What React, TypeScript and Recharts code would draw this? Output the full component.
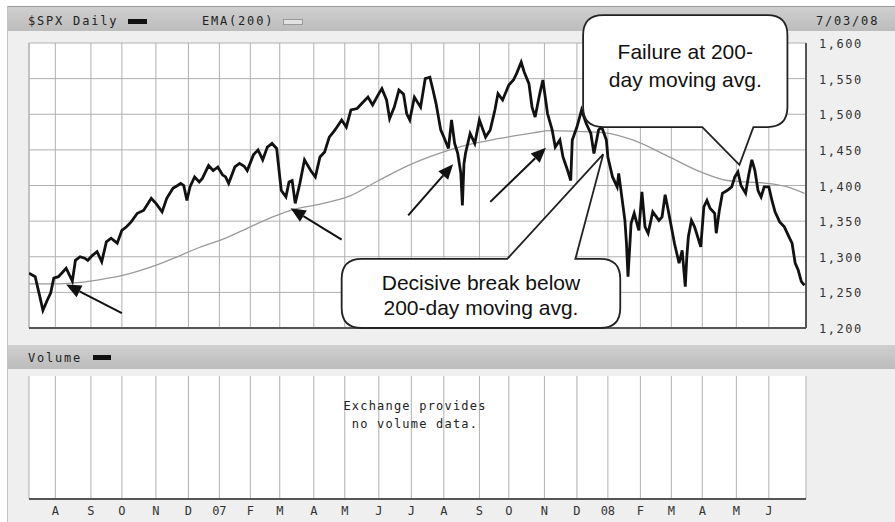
import React from 'react';
import { LineChart, Line, XAxis, YAxis, CartesianGrid, ReferenceLine, ReferenceArea } from 'recharts';

// x = trading day index, 0 = early Jul 2006, 501 = 7/03/08
const monthStarts = [17, 40, 60, 82, 103, 123, 143, 162, 184, 204, 226, 247, 268, 291, 310, 333, 354, 374, 395, 415, 435, 457, 478];
const monthLabels = ['A', 'S', 'O', 'N', 'D', '07', 'F', 'M', 'A', 'M', 'J', 'J', 'A', 'S', 'O', 'N', 'D', '08', 'F', 'M', 'A', 'M', 'J'];
const priceTicks = [1200, 1250, 1300, 1350, 1400, 1450, 1500, 1550, 1600];

const spxDays = [
  0, 4, 7, 9, 12, 14, 16, 19, 22, 24, 26, 28, 30, 33, 36, 38, 41, 44, 47, 50, 53, 57, 60, 63, 66, 70, 74, 77, 79, 82,
  86, 89, 93, 96, 98, 100, 102, 104, 107, 110, 112, 116, 119, 122, 125, 127, 129, 133, 136, 139, 141, 145, 148, 151, 154, 157, 160, 162, 163, 166,
  168, 170, 172, 175, 178, 182, 185, 188, 191, 194, 197, 199, 202, 205, 208, 212, 215, 219, 222, 226, 228, 231, 233, 236, 239, 242, 244, 246, 249, 253,
  256, 259, 261, 263, 266, 268, 271, 273, 275, 277, 279, 280, 281, 282, 285, 288, 291, 295, 298, 301, 303, 306, 310, 313, 315, 318, 320, 323, 325, 327,
  330, 332, 335, 338, 340, 343, 345, 348, 350, 351, 354, 357, 360, 363, 365, 368, 370, 373, 374, 377, 380, 381, 383, 385, 386, 387, 389, 391, 394, 396,
  398, 400, 403, 407, 409, 411, 413, 415, 417, 420, 422, 424, 425, 426, 428, 430, 434, 436, 438, 440, 443, 444, 446, 448, 451, 454, 456, 458, 460, 463,
  465, 467, 469, 471, 473, 475, 478, 480, 482, 485, 488, 491, 493, 495, 497, 499, 501,
];
const spxClose = [
  1277, 1272, 1244, 1225, 1240, 1249, 1270, 1272, 1279, 1284, 1275, 1266, 1295, 1300, 1298, 1295, 1302, 1307, 1293, 1321, 1326, 1319, 1337, 1342, 1349, 1361, 1365, 1375, 1382, 1375,
  1363, 1382, 1396, 1400, 1403, 1400, 1379, 1398, 1412, 1405, 1410, 1428, 1421, 1426, 1415, 1412, 1403, 1426, 1431, 1427, 1421, 1443, 1450, 1436, 1454, 1459, 1452, 1412, 1393, 1384,
  1405, 1407, 1375, 1403, 1436, 1421, 1412, 1440, 1447, 1468, 1476, 1482, 1492, 1482, 1506, 1508, 1515, 1524, 1513, 1529, 1536, 1520, 1494, 1510, 1534, 1528, 1501, 1492, 1524, 1510,
  1550, 1552, 1534, 1515, 1478, 1468, 1452, 1492, 1459, 1445, 1417, 1372, 1430, 1445, 1473, 1459, 1492, 1468, 1478, 1506, 1529, 1520, 1541, 1548, 1557, 1573, 1559, 1543, 1510, 1496,
  1529, 1548, 1501, 1478, 1454, 1464, 1440, 1421, 1407, 1464, 1482, 1506, 1487, 1473, 1445, 1478, 1482, 1464, 1440, 1412, 1398, 1417, 1384, 1351, 1319, 1272, 1347, 1361, 1337, 1391,
  1342, 1333, 1363, 1351, 1356, 1387, 1365, 1342, 1319, 1291, 1309, 1258, 1300, 1328, 1351, 1342, 1314, 1370, 1379, 1368, 1361, 1333, 1365, 1389, 1393, 1398, 1412, 1419, 1400, 1389,
  1415, 1436, 1421, 1393, 1384, 1398, 1398, 1379, 1363, 1349, 1342, 1328, 1319, 1291, 1281, 1265, 1260,
];

const emaDays = [0, 20, 33, 46, 59, 78, 98, 110, 127, 143, 160, 169, 188, 207, 225, 246, 265, 283, 304, 326, 337, 353, 372, 390, 412, 434, 451, 463, 477, 490, 501];
const emaValues = [1262, 1262, 1264, 1268, 1273, 1285, 1302, 1313, 1326, 1342, 1358, 1365, 1374, 1385, 1406, 1429, 1445, 1457, 1466, 1474, 1477, 1476, 1474, 1464, 1442, 1419, 1407, 1405, 1403, 1398, 1389];

// annotations, in chart coordinates (day, price)
const callouts = [
  { lines: ['Failure at 200-', 'day moving avg.'], x1: 358, x2: 490, y1: 1482, y2: 1639, tip: [459, 1429], base: [435, 468], textY: [1587, 1548] },
  { lines: ['Decisive break below', '200-day moving avg.'], x1: 202, x2: 382, y1: 1200, y2: 1297, tip: [371, 1444], base: [309, 353], textY: [1263, 1228] },
];
const arrows = [
  { from: [60, 1221], to: [24, 1261] },
  { from: [202, 1324], to: [169, 1368] },
  { from: [245, 1358], to: [274, 1430] },
  { from: [298, 1377], to: [334, 1453] },
];

const MONO = "'DejaVu Sans Mono', monospace";
const SANS = "'Liberation Sans', Arial, sans-serif";

const spxData = spxDays.map((day, i) => ({ day, close: spxClose[i] }));
const emaData = emaDays.map((day, i) => ({ day, ema: emaValues[i] }));
const volumeFrame = monthStarts.map((day) => ({ day }));

const PriceTick = (props: any) => {
  const { x, y, payload } = props;
  return (
    <text x={x} y={y + 5} fontFamily={MONO} fontSize={12} letterSpacing={1.5} fill="#333" textAnchor="start">
      {Number(payload.value).toLocaleString('en-US')}
    </text>
  );
};

const MonthTick = (props: any) => {
  const { x, y, payload } = props;
  const label = monthLabels[monthStarts.indexOf(payload.value)];
  return (
    <text x={x} y={y + 16} fontFamily={MONO} fontSize={12} fill="#333" textAnchor="middle">
      {label}
    </text>
  );
};

const arrowShape = (p: any) => {
  const { x1, y1, x2, y2 } = p;
  const a = Math.atan2(y2 - y1, x2 - x1);
  const len = 15, hw = 6.5;
  const bx = x2 - len * Math.cos(a);
  const by = y2 - len * Math.sin(a);
  const pts = `${x2},${y2} ${bx + hw * Math.sin(a)},${by - hw * Math.cos(a)} ${bx - hw * Math.sin(a)},${by + hw * Math.cos(a)}`;
  return (
    <g>
      <line x1={x1} y1={y1} x2={bx} y2={by} stroke="#111" strokeWidth={2} />
      <polygon points={pts} fill="#111" />
    </g>
  );
};

const calloutShape = (c: typeof callouts[number]) => (p: any) => {
  const { x, y, width, height } = p;
  const sx = (d: number) => x + ((d - c.x1) / (c.x2 - c.x1)) * width;
  const sy = (v: number) => y + ((c.y2 - v) / (c.y2 - c.y1)) * height;
  const l = x, r = x + width, t = y, b = y + height, k = 20;
  const tx = sx(c.tip[0]), ty = sy(c.tip[1]);
  const b0 = sx(c.base[0]), b1 = sx(c.base[1]);
  const d = ty > b
    ? `M${l + k},${t} H${r - k} Q${r},${t} ${r},${t + k} V${b - k} Q${r},${b} ${r - k},${b} H${b1} L${tx},${ty} L${b0},${b} H${l + k} Q${l},${b} ${l},${b - k} V${t + k} Q${l},${t} ${l + k},${t} Z`
    : `M${l + k},${t} H${b0} L${tx},${ty} L${b1},${t} H${r - k} Q${r},${t} ${r},${t + k} V${b - k} Q${r},${b} ${r - k},${b} H${l + k} Q${l},${b} ${l},${b - k} V${t + k} Q${l},${t} ${l + k},${t} Z`;
  return (
    <g>
      <path d={d} fill="#fff" stroke="#222" strokeWidth={1.8} />
      {c.lines.map((s, i) => (
        <text key={i} x={(l + r) / 2} y={sy(c.textY[i]) + 7} textAnchor="middle" fontFamily={SANS} fontSize={21} fill="#111">
          {s}
        </text>
      ))}
    </g>
  );
};

const band: React.CSSProperties = {
  position: 'absolute', left: 8, width: 887, height: 24,
  background: 'linear-gradient(#cfcfcf, #bcbcbc)',
};
const label: React.CSSProperties = {
  position: 'absolute', fontFamily: MONO, fontSize: 12, letterSpacing: 1.8, color: '#222', lineHeight: '14px', whiteSpace: 'pre',
};

export default function App() {
  return (
    <div style={{ position: 'fixed', left: 0, top: 0, width: 895, height: 522, background: '#fff', overflow: 'hidden' }}>
      <div style={{ position: 'absolute', left: 7, top: 6, width: 888, height: 516, background: '#efefef', borderLeft: '1px solid #c4c4c4', borderTop: '1px solid #9a9a9a' }} />
      <div style={{ ...band, top: 7 }} />
      <div style={{ ...label, left: 28, top: 14 }}>$SPX Daily</div>
      <div style={{ position: 'absolute', left: 128, top: 19, width: 19, height: 5, background: '#111' }} />
      <div style={{ ...label, left: 202, top: 14 }}>EMA(200)</div>
      <div style={{ position: 'absolute', left: 283, top: 19, width: 18, height: 4, background: '#e2e2e2', border: '1px solid #999' }} />
      <div style={{ ...label, left: 816, top: 14 }}>7/03/08</div>

      <div style={{ ...band, top: 345 }} />
      <div style={{ ...label, left: 28, top: 351 }}>Volume</div>
      <div style={{ position: 'absolute', left: 93, top: 355, width: 18, height: 5, background: '#111' }} />

      <div style={{ position: 'absolute', left: 0, top: 0 }}>
        <LineChart width={895} height={340} margin={{ top: 43, right: 29, bottom: 12, left: 29 }}>
          <CartesianGrid stroke="#b0b0b0" fill="#fff" />
          <XAxis type="number" dataKey="day" domain={[0, 502]} ticks={monthStarts} allowDataOverflow hide />
          <YAxis
            orientation="right"
            domain={[1200, 1600]}
            ticks={priceTicks}
            interval={0}
            allowDataOverflow
            width={60}
            axisLine={false}
            tickLine={false}
            tickSize={0}
            tickMargin={13}
            tick={PriceTick}
          />
          <ReferenceLine x={0} stroke="#b0b0b0" />
          <ReferenceLine x={502} stroke="#555" strokeWidth={2} />
          <ReferenceLine y={1200} stroke="#555" strokeWidth={2} />
          <Line data={emaData} dataKey="ema" type="monotone" stroke="#9a9a9a" strokeWidth={1.3} dot={false} isAnimationActive={false} />
          <Line data={spxData} dataKey="close" type="linear" stroke="#111" strokeWidth={2.8} dot={false} isAnimationActive={false} />
          {arrows.map((a, i) => (
            <ReferenceLine
              key={'a' + i}
              segment={[{ x: a.from[0], y: a.from[1] }, { x: a.to[0], y: a.to[1] }]}
              ifOverflow="visible"
              shape={arrowShape}
              zIndex={900}
            />
          ))}
          {callouts.map((c, i) => (
            <ReferenceArea
              key={'c' + i}
              x1={c.x1}
              x2={c.x2}
              y1={c.y1}
              y2={c.y2}
              ifOverflow="visible"
              shape={calloutShape(c)}
              zIndex={1000}
            />
          ))}
        </LineChart>
      </div>

      <div style={{ position: 'absolute', left: 0, top: 360 }}>
        <LineChart width={895} height={162} data={volumeFrame} margin={{ top: 16, right: 89, bottom: 0, left: 29 }}>
          <CartesianGrid stroke="#b0b0b0" fill="#fff" horizontal={false} />
          <XAxis
            type="number"
            dataKey="day"
            domain={[0, 502]}
            ticks={monthStarts}
            interval={0}
            allowDataOverflow
            height={23}
            axisLine={{ stroke: '#555', strokeWidth: 2 }}
            tickLine={false}
            tickSize={0}
            tickMargin={0}
            tick={MonthTick}
          />
          <YAxis hide domain={[0, 1]} />
          <ReferenceLine x={502} stroke="#555" strokeWidth={2} />
        </LineChart>
      </div>
      <div style={{ ...label, left: 0, width: 830, top: 397, textAlign: 'center', letterSpacing: 1.2, lineHeight: '18px' }}>
        {'Exchange provides\nno volume data.'}
      </div>
    </div>
  );
}
